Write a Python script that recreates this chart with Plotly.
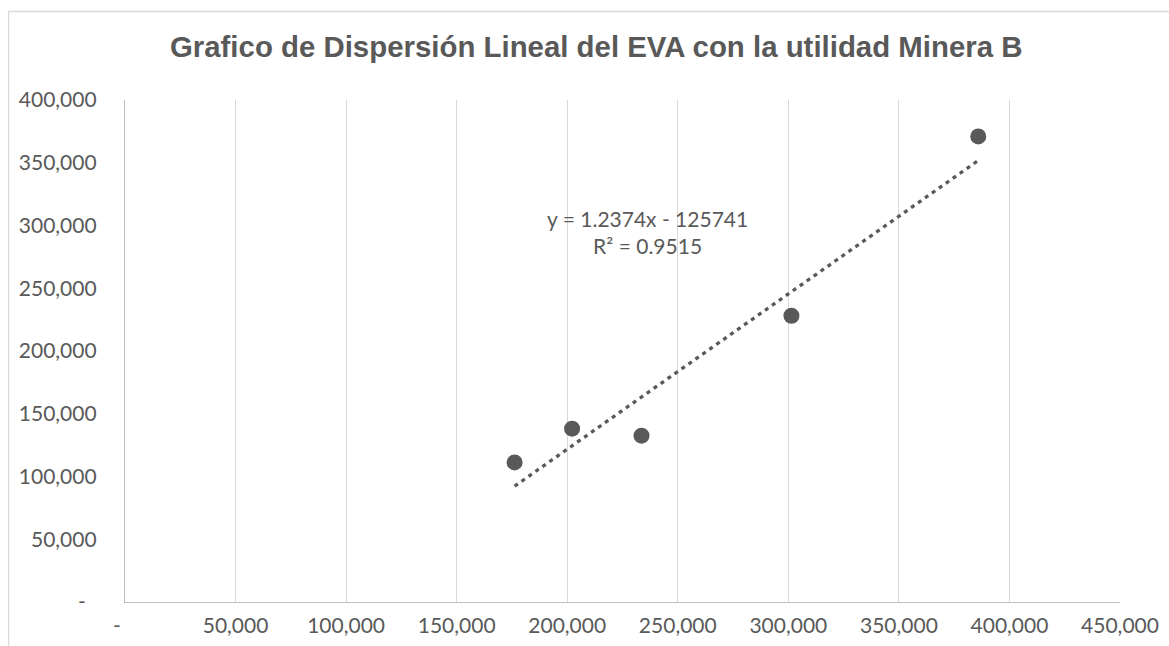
import plotly.graph_objects as go

# EVA vs. utilidad (Minera B)
utilidad = [176200, 202200, 233600, 301400, 385900]
eva = [111200, 138100, 132500, 228100, 371000]

# Linear trendline coefficients shown on the chart
slope = 1.2374
intercept = -125741
r2 = 0.9515

x_ticks = [0, 50000, 100000, 150000, 200000, 250000, 300000, 350000, 400000, 450000]
y_ticks = [0, 50000, 100000, 150000, 200000, 250000, 300000, 350000, 400000]

NBSP = "\u00a0"


def fmt(v):
    return f"{v:,}"


x_labels = ["-" + NBSP * 3 if v == 0 else fmt(v) for v in x_ticks]
y_labels = ["-" + NBSP * 2 if v == 0 else fmt(v) for v in y_ticks]

GREY = "#595959"
TICK_FONT = dict(family="Lato", size=21, color=GREY)

trend_x = [min(utilidad), max(utilidad)]
trend_y = [slope * v + intercept for v in trend_x]

fig = go.Figure()
fig.add_trace(go.Scatter(
    x=trend_x, y=trend_y, mode="lines",
    line=dict(color=GREY, width=3.3, dash="4px,4.5px"),
    hoverinfo="skip", showlegend=False,
))
fig.add_trace(go.Scatter(
    x=utilidad, y=eva, mode="markers",
    marker=dict(size=16, color=GREY),
    showlegend=False,
))

fig.add_annotation(
    x=236500, y=294500, xref="x", yref="y",
    text=f"y = {slope}x - {abs(intercept)}<br>R² = {r2}",
    showarrow=False, align="center", font=TICK_FONT,
)

# chart-area border
fig.add_shape(
    type="rect", xref="paper", yref="paper",
    x0=-0.117, x1=1.3, y0=-0.3, y1=1.1763,
    line=dict(color="#d9d9d9", width=1.3), fillcolor="rgba(0,0,0,0)",
    layer="below",
)

fig.update_layout(
    width=1169, height=646,
    margin=dict(l=125, r=49, t=100, b=44, autoexpand=False),
    paper_bgcolor="white", plot_bgcolor="white",
    title=dict(
        text="<b>Grafico de Dispersión Lineal del EVA con la utilidad Minera B</b>",
        font=dict(family="Liberation Sans, Arial", size=29.4, color=GREY),
        x=0.51, xref="container", xanchor="center",
        y=1 - 47 / 646, yref="container", yanchor="middle",
    ),
    xaxis=dict(
        range=[0, 450000], tickvals=x_ticks, ticktext=x_labels,
        showgrid=True, gridcolor="#d9d9d9", gridwidth=1.3,
        showline=True, linecolor="#bfbfbf", linewidth=1.3,
        zeroline=False, ticks="", tickfont=TICK_FONT,
        ticklabelstandoff=5, automargin=False,
    ),
    yaxis=dict(
        range=[0, 400000], tickvals=y_ticks, ticktext=y_labels,
        showgrid=False, showline=True, linecolor="#bfbfbf", linewidth=1.3,
        zeroline=False, ticks="", tickfont=TICK_FONT,
        ticklabelstandoff=23, automargin=False,
    ),
)

fig.write_html("out.html")
